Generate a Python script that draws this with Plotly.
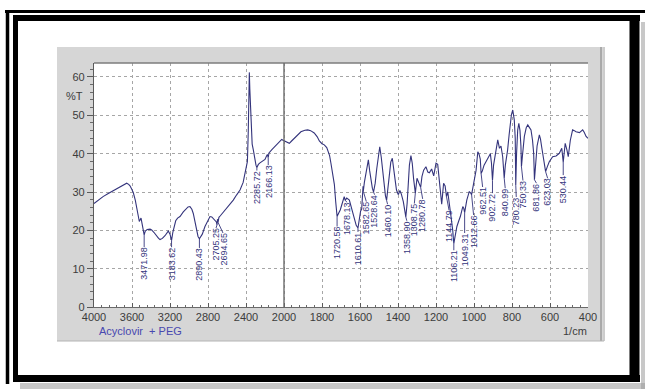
import numpy as np
import plotly.graph_objects as go

# ---- spectrum data: wavenumber (1/cm) and transmittance (%T) ----
wavenumber = [
    4000, 3950, 3905, 3850, 3797, 3750, 3708, 3680, 3656, 3635, 3621, 3600, 3586, 3565, 3544,
    3523, 3505, 3490, 3471.98, 3460, 3440, 3410, 3393, 3370, 3347, 3320, 3305, 3280, 3253,
    3230, 3218, 3200, 3183.62, 3170, 3158, 3140, 3120, 3095, 3060, 3032, 3010, 2990, 2970,
    2955, 2935, 2919, 2905, 2890.43, 2875, 2860, 2832, 2800, 2779, 2760, 2744, 2725, 2712,
    2705.25, 2700, 2694.65, 2685, 2670, 2656, 2630, 2603, 2570, 2534, 2500, 2463, 2430, 2411,
    2395, 2385, 2376, 2368, 2365, 2360, 2351, 2343, 2335, 2323, 2305, 2295, 2285.72, 2270,
    2253, 2225, 2200, 2184, 2175, 2166.13, 2158, 2130, 2100, 2077, 2050, 2024, 2010,
    1989, 1972, 1960, 1946, 1925, 1911, 1890, 1875, 1860, 1841, 1825, 1814, 1800, 1788, 1775,
    1770, 1760, 1753, 1745, 1735, 1728, 1720.56, 1712, 1704, 1695, 1688, 1683, 1678.13, 1670,
    1656, 1647, 1638, 1630, 1620, 1610.61, 1603, 1597, 1591, 1587, 1584, 1582.65, 1577, 1570,
    1562, 1556, 1549, 1542, 1535, 1528.64, 1520, 1512, 1505, 1496, 1488, 1480, 1472, 1466,
    1460.10, 1452, 1445, 1438, 1430, 1424, 1416, 1408, 1398, 1390, 1382, 1372, 1365, 1358.90,
    1352, 1346, 1340, 1332, 1325, 1318, 1308.75, 1300, 1292, 1286, 1280.78, 1274, 1265, 1253,
    1243, 1235, 1223, 1212, 1200, 1191, 1183, 1177, 1170, 1165, 1160, 1152, 1144.79, 1138,
    1130, 1121, 1112, 1106.21, 1100, 1090, 1080, 1072, 1059, 1054, 1049.31, 1044, 1038, 1025,
    1018, 1012.66, 1008, 1002, 995, 989, 980, 973, 967, 962.51, 956, 947, 937, 925, 914, 908,
    902.72, 897, 889, 882, 875, 866, 858, 849, 844, 840.99, 835, 823, 815, 810, 803, 796, 788,
    783, 780.23, 776, 770, 764, 758, 753, 750.33, 745, 735, 725, 717, 708, 700, 692, 686,
    681.86, 676, 668, 656, 650, 644, 636, 630, 623.03, 615, 604, 586, 568, 551, 538, 530.44,
    525, 520, 511, 504, 493, 481, 472, 463, 445, 428, 420, 410, 400,
]
transmittance = [
    27.0, 28.0, 28.8, 29.6, 30.3, 30.9, 31.6, 32.0, 32.3, 32.0, 31.6, 30.6, 29.8, 27.8, 25.4,
    22.3, 23.2, 20.6, 18.8, 19.8, 20.2, 20.3, 20.1, 19.5, 18.6, 17.9, 17.6, 17.9, 18.6,
    19.5, 19.8, 19.0, 17.4, 19.5, 20.8, 22.5, 23.2, 23.6, 24.8, 25.7, 26.1, 26.2, 25.5,
    24.4, 21.8, 19.7, 18.4, 17.8, 18.4, 19.0, 21.0, 22.8, 23.6, 23.5, 23.1, 22.8, 22.2,
    21.4, 22.9, 22.1, 23.4, 23.8, 24.2, 25.0, 25.8, 26.8, 27.9, 29.2, 30.5, 32.5, 34.5,
    36.2, 38.0, 46.0, 56.0, 61.2, 57.0, 50.0, 44.0, 42.5, 41.0, 37.9, 37.0, 36.4, 37.2,
    37.6, 38.0, 38.5, 39.4, 39.8, 39.0, 40.2, 41.0, 41.7, 42.3, 43.0, 43.7, 43.5,
    43.1, 42.7, 43.3, 44.0, 45.2, 45.7, 46.1, 46.2, 46.0, 45.4, 44.4, 43.3, 42.6, 42.3, 41.6,
    41.0, 39.5, 37.5, 35.0, 32.0, 27.5, 23.6, 24.5, 25.3, 26.8, 28.0, 28.8, 27.8, 28.4,
    27.9, 26.2, 24.5, 22.7, 21.3, 20.6, 23.0, 25.0, 25.6, 29.5, 31.5, 30.2, 32.5, 34.4,
    37.0, 38.4, 35.5, 32.5, 31.0, 30.0, 32.3, 36.0, 39.0, 41.8, 39.0, 35.0, 31.5, 29.0,
    27.8, 31.5, 35.5, 37.8, 38.8, 37.0, 33.5, 30.5, 29.3, 30.4, 29.4, 27.5, 25.5, 23.5,
    27.0, 32.0, 37.0, 39.5, 37.5, 33.5, 29.7, 33.6, 32.5, 32.0, 31.2, 34.0, 35.7, 36.6,
    35.2, 35.0, 36.0, 34.2, 37.5, 37.2, 33.5, 29.5, 26.8, 29.5, 32.3, 31.6, 28.8, 30.0,
    26.2, 23.6, 20.0, 16.5, 18.3, 21.0, 22.5, 23.6, 26.2, 25.8, 24.6, 26.5, 27.9, 30.1,
    29.8, 29.3, 30.5, 31.5, 33.5, 35.7, 40.5, 39.8, 38.6, 34.8, 35.5, 37.0, 37.9, 39.2, 40.0, 37.5,
    33.0, 37.0, 39.2, 42.0, 43.6, 41.4, 42.0, 39.2, 35.5, 33.6, 37.0, 41.0, 45.0, 47.9, 50.2, 51.4, 48.8,
    44.0, 31.8, 40.0, 46.2, 47.9, 46.0, 42.0, 36.6, 39.5, 44.5, 46.8, 47.5, 46.8, 46.2, 43.5, 40.1,
    33.2, 37.5, 42.0, 44.9, 43.8, 41.8, 39.5, 37.5, 35.3, 36.5, 37.9, 39.2, 39.4, 40.1, 41.4, 37.8,
    40.5, 42.7, 41.0, 39.2, 43.5, 46.2, 46.0, 45.7, 45.5, 46.2, 45.6, 44.5, 44.0,
]

# ---- labelled absorption bands ----
peak_labels = [
    "3471.98", "3183.62", "2890.43", "2705.25", "2694.65", "2285.72", "2166.13",
    "1720.56", "1678.13", "1610.61", "1582.65", "1528.64", "1460.10", "1358.90",
    "1308.75", "1280.78", "1144.79", "1106.21", "1049.31", "1012.66", "962.51",
    "902.72", "840.99", "780.23", "750.33", "681.86", "623.03", "530.44",
]
# %T level where each rotated label begins (just under its band)
label_tops = [
    15.6, 15.6, 15.4, 20.6, 19.3, 35.6, 37.0,
    21.0, 27.3, 19.6, 27.5, 29.3, 26.8, 22.5,
    27.0, 28.2, 25.3, 14.8, 19.3, 24.0, 31.3,
    29.7, 31.0, 28.7, 33.0, 32.3, 33.6, 34.4,
]
# sideways nudge (px) that keeps neighbouring labels apart
label_nudge = [
    0, 0, 0, -1, 5, 0, 0,
    0, 2, 0, 3, 1, 1, 1,
    -1, 2, 2.5, 0, 0, 2, 1.5,
    0, 1, 0.5, 1.5, 2, 2, 0,
]

# ---- axis ticks ----
tick_wavenumbers = [4000, 3600, 3200, 2800, 2400, 2000, 1800, 1600, 1400, 1200, 1000, 800, 600, 400]
tick_text = [str(t) for t in tick_wavenumbers]
y_ticks = [0, 10, 20, 30, 40, 50, 60]

W, H = 645, 389
L, R, T, B = 94, 57, 63, 82
Y_MAX = 63.65
PX_PER_DIV = (W - L - R) / 13.0


def wn_axis(w):
    """Instrument scale: 400 1/cm per division above 2000, 200 1/cm per division below."""
    w = np.asarray(w, dtype=float)
    return np.where(w >= 2000, (4000 - w) / 400.0, 5 + (2000 - w) / 200.0)


def px(x):
    return (x - L) / (W - L - R)


def py(y):
    return (H - B - y) / (H - T - B)


navy = "#34347c"
u = wn_axis(wavenumber)

fig = go.Figure()
fig.add_trace(go.Scatter(x=u, y=transmittance, mode="lines",
                         line=dict(color=navy, width=1.1), hoverinfo="skip"))

# leader lines from each band down to its label
peak_w = np.array([float(s) for s in peak_labels])
peak_t = np.interp(peak_w[::-1], np.array(wavenumber[::-1], dtype=float),
                   np.array(transmittance[::-1], dtype=float))[::-1]
lx, ly = [], []
for w, t, top, dx in zip(peak_w, peak_t, label_tops, label_nudge):
    xx = float(wn_axis(w))
    lx += [xx, xx + dx / PX_PER_DIV, None]
    ly += [t, top, None]
fig.add_trace(go.Scatter(x=lx, y=ly, mode="lines", line=dict(color=navy, width=0.9),
                         hoverinfo="skip"))

annotations = []
for w, s, top, dx in zip(peak_w, peak_labels, label_tops, label_nudge):
    annotations.append(dict(x=float(wn_axis(w)), y=top, xref="x", yref="y", text=s,
                            textangle=-90, showarrow=False, xanchor="center", yanchor="top",
                            xshift=dx, borderpad=0, borderwidth=0,
                            font=dict(family="Arial, Liberation Sans", size=9, color=navy)))

annotations += [
    dict(x=px(85), y=55, xref="paper", yref="y", text="%T", showarrow=False,
         xanchor="right", yanchor="middle",
         font=dict(family="Arial, Liberation Sans", size=11, color="#3c3c3c")),
    dict(x=px(97), y=py(331), xref="paper", yref="paper", text="Acyclovir  + PEG",
         showarrow=False, xanchor="left", yanchor="middle",
         font=dict(family="Arial, Liberation Sans", size=11, color="#4848b0")),
    dict(x=px(589), y=py(331), xref="paper", yref="paper", text="1/cm",
         showarrow=False, xanchor="right", yanchor="middle",
         font=dict(family="Arial, Liberation Sans", size=11, color="#3c3c3c")),
]


def rect(x0, y0, x1, y1, fill, layer="below", opacity=1.0):
    return dict(type="rect", xref="paper", yref="paper", x0=px(x0), x1=px(x1),
                y0=py(y0), y1=py(y1), fillcolor=fill, line=dict(width=0),
                layer=layer, opacity=opacity)


def seg(x0, y0, x1, y1, color, width, layer="above", dash="solid"):
    return dict(type="line", xref="paper", yref="paper", x0=px(x0), x1=px(x1),
                y0=py(y0), y1=py(y1), line=dict(color=color, width=width, dash=dash),
                layer=layer)


shapes = [
    # drop shadow behind the black frame
    rect(641, 22, 645, 389, "#9a9a9a", opacity=0.55),
    rect(20, 383, 645, 389, "#9a9a9a", opacity=0.55),
    # grey instrument panel and white plotting field
    rect(57, 47, 603, 341, "#d6d6d6"),
    rect(L, T, W - R, H - B, "#ffffff"),
    seg(601, 47, 601, 341, "#8c8c8c", 1.2, layer="below"),
    seg(604, 47, 604, 341, "#9a9a9a", 1.0, layer="below"),
    seg(57, 341, 604, 341, "#b4b4b4", 1.0, layer="below"),
    # top border of the plotting field
    seg(L, T, W - R, T, "#7c7c7c", 1.6),
    # solid divider where the scale changes at 2000 1/cm
    dict(type="line", xref="x", yref="paper", x0=5, x1=5, y0=0, y1=1,
         line=dict(color="#6c6c6c", width=1.4), layer="above"),
    # black picture frame
    seg(5, 11.5, 645, 11.5, "#000000", 3),
    seg(7.5, 10, 7.5, 384, "#000000", 3.5),
    seg(15.5, 15, 15.5, 382, "#000000", 5),
    seg(13, 18, 640, 18, "#000000", 6),
    seg(634.5, 15, 634.5, 382, "#000000", 10),
    seg(13, 378.5, 640, 378.5, "#000000", 7),
]

fig.update_layout(
    width=W, height=H,
    margin=dict(l=L, r=R, t=T, b=B, pad=0),
    paper_bgcolor="#ffffff", plot_bgcolor="#ffffff",
    showlegend=False,
    annotations=annotations,
    shapes=shapes,
    xaxis=dict(
        range=[0, 13], tickmode="array", tickvals=list(wn_axis(tick_wavenumbers)),
        ticktext=tick_text, showgrid=True, gridcolor="#a6a6a6", griddash="dot", gridwidth=1,
        ticks="inside", ticklen=4, tickcolor="#5a5a5a", tickwidth=1,
        minor=dict(ticks="inside", ticklen=2.5, tickcolor="#6a6a6a", dtick=0.2, tick0=0,
                   showgrid=False),
        showline=True, linecolor="#6a6a6a", linewidth=1, zeroline=False,
        tickfont=dict(family="Arial, Liberation Sans", size=11, color="#3c3c3c"),
        fixedrange=True,
    ),
    yaxis=dict(
        range=[0, Y_MAX], tickmode="array", tickvals=y_ticks,
        showgrid=True, gridcolor="#a6a6a6", griddash="dot", gridwidth=1,
        ticks="outside", ticklen=6, tickcolor="#5a5a5a", tickwidth=1,
        minor=dict(ticks="outside", ticklen=3, tickcolor="#6a6a6a", dtick=2, tick0=0,
                   showgrid=False),
        showline=True, linecolor="#5a5a5a", linewidth=1.2, zeroline=False,
        tickfont=dict(family="Arial, Liberation Sans", size=11, color="#3c3c3c"),
        fixedrange=True,
    ),
)

fig.write_html("out.html")
